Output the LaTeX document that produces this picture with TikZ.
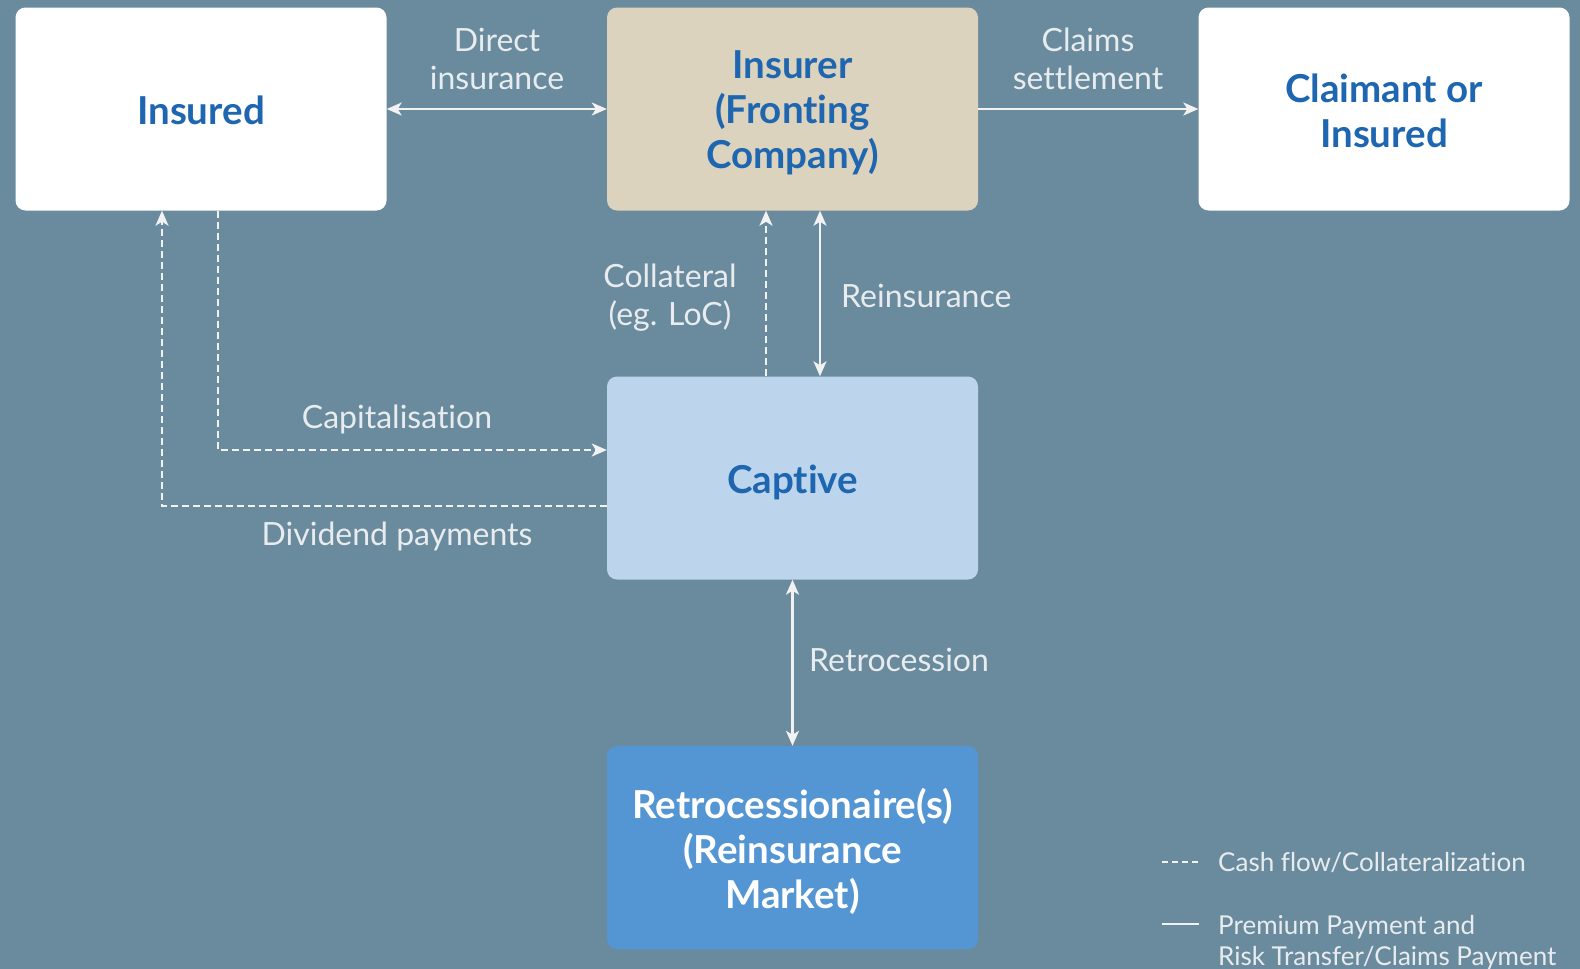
\documentclass[tikz,border=0pt]{standalone}
\usepackage{fontspec}
\setmainfont{Lato}[Ligatures=NoCommon]
\usetikzlibrary{arrows.meta,calc}
\definecolor{bg}{HTML}{6A8B9E}
\definecolor{insurerfill}{HTML}{DBD3BD}
\definecolor{captivefill}{HTML}{BCD5EC}
\definecolor{retrofill}{HTML}{5495D3}
\definecolor{boxtext}{HTML}{1F66B0}
\definecolor{linecol}{HTML}{F2F2F2}
\definecolor{labeltext}{HTML}{E8ECEF}
\tikzset{
  box/.style={rectangle, rounded corners=10pt, minimum width=371pt, minimum height=203pt, inner sep=0pt, align=center, font=\fontsize{38.5}{45}\selectfont\bfseries, text=boxtext},
  boxlabel/.style={box, draw=none, minimum width=0pt, minimum height=0pt},
  lbl/.style={inner sep=0pt, align=center, text=labeltext, font=\fontsize{32}{38}\selectfont},
  legtext/.style={inner sep=0pt, align=left, text=labeltext, font=\fontsize{26}{31}\selectfont},
  flow/.style={draw=linecol, line width=2.2pt, -{Stealth[length=15pt,width=13pt,inset=4pt]}},
  dflow/.style={flow, dash pattern=on 7pt off 4pt},
  both/.style={draw=linecol, line width=2.2pt, {Stealth[length=15pt,width=13pt,inset=4pt]}-{Stealth[length=15pt,width=13pt,inset=4pt]}}
}
\begin{document}
\begin{tikzpicture}[x=1pt,y=-1pt]
\fill[bg] (0,0) rectangle (1580,969);
\useasboundingbox (0,0) rectangle (1580,969);
\node[box, fill=white] (insured) at (201,109) {};
\node[box, fill=insurerfill] (insurer) at (792.5,109) {};
\node[box, fill=white] (claimant) at (1384,109) {};
\node[box, fill=captivefill] (captive) at (792.5,478) {};
\node[box, fill=retrofill] (retro) at (792.5,847.5) {};
\node[boxlabel] (tinsured) at (201,110) {Insured};
\node[boxlabel] (tinsurer) at (792.5,113) {Insurer\\(Fronting\\Company)};
\node[boxlabel] (tclaimant) at (1384,111) {Claimant or\\Insured};
\node[boxlabel] (tcaptive) at (792.5,482) {Captive};
\node[boxlabel, text=white] (tretro) at (792.5,851) {Retrocessionaire(s)\\(Reinsurance\\Market)};

\draw[both] (insured.east) -- (insurer.west);
\draw[flow] (insurer.east) -- (claimant.west);
\draw[dflow] ([xshift=-26.5pt]captive.north) -- ([xshift=-26.5pt]insurer.south);
\draw[both] ([xshift=27.5pt]insurer.south) -- ([xshift=27.5pt]captive.north);
\draw[dflow] ([xshift=17pt]insured.south) |- ([yshift=28pt]captive.west);
\draw[dflow] ([yshift=-28pt]captive.west) -| ([xshift=-39pt]insured.south);
\draw[both] (captive.south) -- (retro.north);

\node[lbl] (ldirect) at (497,59) {Direct\\insurance};
\node[lbl] (lclaims) at (1088,59) {Claims\\settlement};
\node[lbl] (lcoll) at (670,298) {Collateral\\(eg. LoC)};
\node[lbl, anchor=west] (lreins) at (841,296) {Reinsurance};
\node[lbl] (lcap) at (397,419) {Capitalisation};
\node[lbl] (ldiv) at (397,536) {Dividend payments};
\node[lbl, anchor=west] (lretro) at (809,660) {Retrocession};

\coordinate (lega) at (1162,862);
\coordinate (legb) at (1199,862);
\coordinate (legc) at (1162,924);
\coordinate (legd) at (1199,924);
\draw[linecol, line width=2pt, dash pattern=on 6pt off 4pt] (lega) -- (legb);
\draw[linecol, line width=2pt] (legc) -- (legd);
\node[legtext, anchor=west] (leg1) at (1218,863) {Cash flow/Collateralization};
\node[legtext, anchor=north west] (leg2) at (1218,915) {Premium Payment and\\Risk Transfer/Claims Payment};
\end{tikzpicture}
\end{document}
